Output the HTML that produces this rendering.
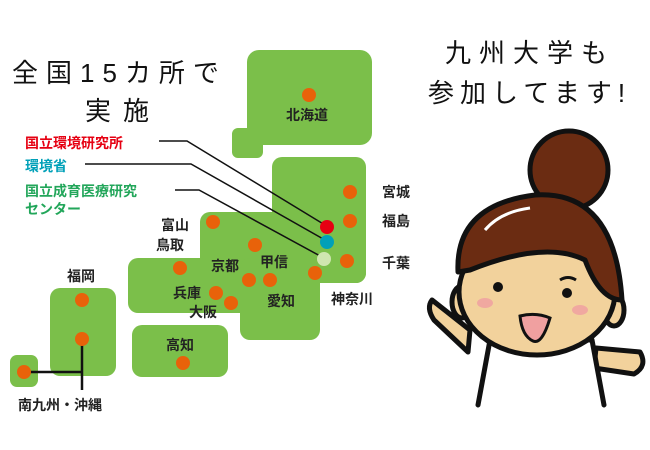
<!DOCTYPE html>
<html><head><meta charset="utf-8"><style>
html,body{margin:0;padding:0;background:#fff;}
svg{display:block;}
text{font-family:"Liberation Sans","Noto Sans CJK JP",sans-serif;}
.b{font-weight:bold;font-size:14px;fill:#222;}
.t{font-size:26px;fill:#111;letter-spacing:5px;}
</style></head><body>
<svg width="650" height="450" viewBox="0 0 650 450" xmlns="http://www.w3.org/2000/svg">
<rect width="650" height="450" fill="#fff"/>
<g fill="#7bbf4a">
<rect x="247" y="50" width="125" height="95" rx="12"/>
<rect x="232" y="128" width="31" height="30" rx="6"/>
<rect x="247" y="120" width="20" height="25"/>
<rect x="272" y="157" width="94" height="126" rx="10"/>
<rect x="200" y="212" width="166" height="71" rx="10"/>
<rect x="128" y="258" width="172" height="55" rx="10"/>
<rect x="240" y="258" width="80" height="82" rx="10"/>
<rect x="132" y="325" width="96" height="52" rx="10"/>
<rect x="50" y="288" width="66" height="88" rx="10"/>
<rect x="10" y="355" width="28" height="32" rx="7"/>
</g>
<g stroke="#111" stroke-width="1.5" fill="none">
<polyline points="159,141 187,141 325,225"/>
<polyline points="85,164 191,164 325,240"/>
<polyline points="175,190 199,190 322,257"/>
</g>
<g stroke="#111" stroke-width="2.5" fill="none">
<polyline points="24,372 82,372"/>
<polyline points="82,339 82,390"/>
</g>
<g fill="#e8620a">
<circle cx="309" cy="95" r="7"/>
<circle cx="350" cy="192" r="7"/>
<circle cx="350" cy="221" r="7"/>
<circle cx="347" cy="261" r="7"/>
<circle cx="315" cy="273" r="7"/>
<circle cx="213" cy="222" r="7"/>
<circle cx="255" cy="245" r="7"/>
<circle cx="180" cy="268" r="7"/>
<circle cx="249" cy="280" r="7"/>
<circle cx="270" cy="280" r="7"/>
<circle cx="216" cy="293" r="7"/>
<circle cx="231" cy="303" r="7"/>
<circle cx="82" cy="300" r="7"/>
<circle cx="82" cy="339" r="7"/>
<circle cx="24" cy="372" r="7"/>
<circle cx="183" cy="363" r="7"/>
</g>
<circle cx="327" cy="227" r="7" fill="#e60012"/>
<circle cx="327" cy="242" r="7" fill="#00a0b8"/>
<circle cx="324" cy="259" r="7" fill="#cfe6b0"/>

<text x="12" y="82" class="t" style="letter-spacing:8px">全国15カ所で</text>
<text x="85" y="120" class="t" style="letter-spacing:12px">実施</text>

<text x="25" y="148" font-weight="bold" font-size="14" fill="#e60012">国立環境研究所</text>
<text x="25" y="171" font-weight="bold" font-size="14" fill="#00a0b8">環境省</text>
<text x="25" y="196" font-weight="bold" font-size="14" fill="#22a65a">国立成育医療研究</text>
<text x="25" y="214" font-weight="bold" font-size="14" fill="#22a65a">センター</text>

<g text-anchor="middle">
<text x="307" y="120" class="b">北海道</text>
<text x="396" y="197" class="b">宮城</text>
<text x="396" y="226" class="b">福島</text>
<text x="396" y="268" class="b">千葉</text>
<text x="175" y="230" class="b">富山</text>
<text x="170" y="250" class="b">鳥取</text>
<text x="225" y="271" class="b">京都</text>
<text x="274" y="267" class="b">甲信</text>
<text x="187" y="298" class="b">兵庫</text>
<text x="203" y="317" class="b">大阪</text>
<text x="281" y="306" class="b">愛知</text>
<text x="352" y="304" class="b">神奈川</text>
<text x="81" y="281" class="b">福岡</text>
<text x="180" y="350" class="b">高知</text>
<text x="60" y="410" class="b">南九州・沖縄</text>
</g>

<text x="445" y="62" class="t" style="letter-spacing:8px">九州大学も</text>
<text x="428" y="102" class="t" style="letter-spacing:6px">参加してます!</text>

<!-- girl -->
<g stroke="#111" stroke-width="5" stroke-linejoin="round" stroke-linecap="round">
<path d="M470 330 L432 300 Q426 308 434 320 L468 352 Z" fill="#f2d29c"/>
<path d="M596 348 L640 352 Q648 366 634 374 L594 368 Z" fill="#f2d29c"/>
<path d="M478 405 L490 340 L592 340 L604 405" fill="#fff"/>
<ellipse cx="462" cy="302" rx="10" ry="16" fill="#f2d29c"/>
<ellipse cx="614" cy="310" rx="10" ry="16" fill="#f2d29c"/>
<ellipse cx="537" cy="292" rx="78" ry="63" fill="#f2d29c"/>
<circle cx="569" cy="170" r="39" fill="#6b2c12"/>
<path d="M458 272 Q455 205 535 195 Q615 190 622 300 Q600 300 585 260 Q545 240 470 270 Z" fill="#6b2c12"/>
</g>
<path d="M485 230 Q500 212 530 208" stroke="#fff" stroke-width="3" fill="none"/>
<circle cx="498" cy="287" r="5" fill="#111"/>
<circle cx="567" cy="293" r="5" fill="#111"/>
<path d="M560 280 Q568 275 576 280" stroke="#111" stroke-width="3" fill="none"/>
<ellipse cx="485" cy="303" rx="8" ry="5" fill="#f0a8a0"/>
<ellipse cx="580" cy="310" rx="8" ry="5" fill="#f0a8a0"/>
<path d="M520 316 Q536 312 550 318 Q542 345 533 341 Q522 336 520 316 Z" fill="#f0a0a0" stroke="#111" stroke-width="3"/>
</svg>
</body></html>
